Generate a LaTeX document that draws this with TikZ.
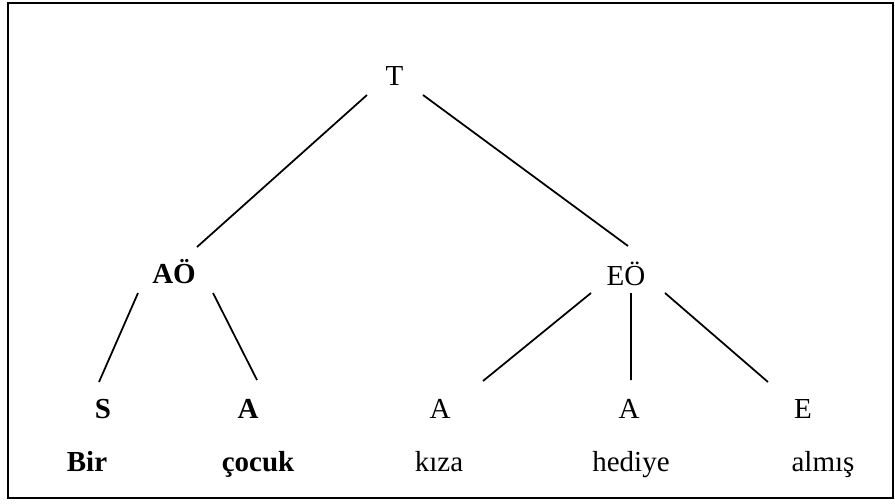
\documentclass[tikz,border=0pt]{standalone}
\usepackage{fontspec}
\setmainfont{Liberation Serif}

\begin{document}
\begin{tikzpicture}[every node/.style={anchor=base, inner sep=0pt, font=\fontsize{16.5}{19}\selectfont}, every edge/.style={draw=black, line width=1pt}]
	\useasboundingbox (0,0) rectangle (17.9,10.06);
	\draw[line width=1.5pt] (0.16,0.10) rectangle (17.86,10.0);
	
	\node (t) at (7.89,8.36) {T};
	\node[font=\fontsize{16.5}{19}\selectfont\bfseries] (ao) at (3.48,4.40) {AÖ};
	\node (eo) at (12.52,4.36) {EÖ};
	
	\node[font=\fontsize{16.5}{19}\selectfont\bfseries] (s) at (2.06,1.70) {S};
	\node[font=\fontsize{16.5}{19}\selectfont\bfseries] (a1) at (4.96,1.70) {A};
	\node (a2) at (8.80,1.70) {A};
	\node (a3) at (12.58,1.70) {A};
	\node (e) at (16.06,1.70) {E};
	
	\node[font=\fontsize{16.5}{19}\selectfont\bfseries] (bir) at (1.74,0.63) {Bir};
	\node[font=\fontsize{16.5}{19}\selectfont\bfseries] (cocuk) at (5.16,0.63) {çocuk};
	\node (kiza) at (8.78,0.63) {kıza};
	\node (hediye) at (12.62,0.63) {hediye};
	\node (almis) at (16.46,0.63) {almış};
	
	\path ([shift={(-0.55,-0.2)}]t.base) edge ([shift={(0.46,0.72)}]ao.base);
	\path ([shift={(0.57,-0.2)}]t.base) edge ([shift={(0.04,0.78)}]eo.base);
	\path ([shift={(-0.72,-0.2)}]ao.base) edge ([shift={(-0.08,0.72)}]s.base);
	\path ([shift={(0.78,-0.2)}]ao.base) edge ([shift={(0.18,0.76)}]a1.base);
	\path ([shift={(-0.70,-0.16)}]eo.base) edge ([shift={(0.86,0.74)}]a2.base);
	\path ([shift={(0.10,-0.16)}]eo.base) edge ([shift={(0.04,0.76)}]a3.base);
	\path ([shift={(0.78,-0.16)}]eo.base) edge ([shift={(-0.70,0.72)}]e.base);
\end{tikzpicture}
\end{document}
